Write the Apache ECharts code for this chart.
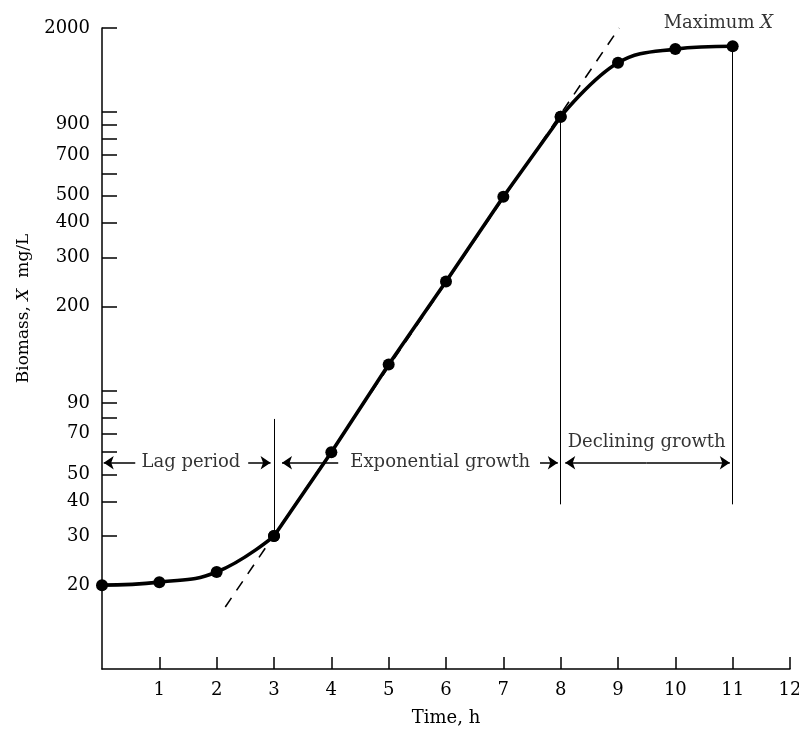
<!DOCTYPE html>
<html><head><meta charset="utf-8">
<script src="https://cdn.jsdelivr.net/npm/echarts@6/dist/echarts.min.js"></script>
<style>html,body{margin:0;padding:0;background:#fff}#c{width:799px;height:730px}</style>
</head><body><div id="c"></div>
<script>
// ---- data ----
const timeH = [0, 1, 2, 3, 4, 5, 6, 7, 8, 9, 10, 11];
const biomass = [20, 20.5, 22.3, 30, 60, 124, 246, 496, 960, 1500, 1680, 1720];
const lagIdx = [0, 1, 2, 3];
const expIdx = [3, 4, 5, 6, 7, 8];
const declineIdx = [8, 9, 10, 11];
const yTickValues = [20, 30, 40, 50, 60, 70, 80, 90, 100, 200, 300, 400, 500, 600, 700, 800, 900, 1000, 2000];
const yTickLabels = [20, 30, 40, 50, 70, 90, 200, 300, 400, 500, 700, 900, 2000];
const xTickLabels = [1, 2, 3, 4, 5, 6, 7, 8, 9, 10, 11, 12];
const tangentX = [2.15, 9.02];
const tangentY = [16.7, 2000];
const phaseLineX = [3, 8, 11];
const phaseLineTop = [79, 960, 1720];
const phaseLineBottom = [30, 39, 39];
const arrowLevel = 55;
const arrowFrom = [0.58, 2.55, 4.12, 7.64, 9.5, 9.5];
const arrowTo = [0.03, 2.94, 3.14, 7.95, 8.08, 10.95];
const noteText = ['Lag period', 'Exponential growth', 'Declining growth', 'Maximum X'];
const noteX = [1.55, 5.9, 9.5, 10.75];
const noteY = [55, 55, 65, 2084];

const FONT = 'DejaVu Serif';
const INK = '#000';
const pick = idx => idx.map(i => [timeH[i], biomass[i]]);
const curveSeries = (idx, smooth) => ({
  type: 'line', data: pick(idx), smooth: smooth, symbol: 'circle', symbolSize: 12, z: 5,
  itemStyle: {color: INK}, lineStyle: {color: INK, width: 3.6}
});

const chart = echarts.init(document.getElementById('c'), null, {renderer: 'canvas'});
chart.setOption({
  backgroundColor: '#fff',
  animation: false,
  grid: {left: 102, right: 9, top: 28, bottom: 61, outerBoundsMode: 'none'},
  xAxis: {
    type: 'value', min: 0, max: 12, interval: 1,
    name: 'Time, h', nameLocation: 'middle', nameGap: 40,
    nameTextStyle: {fontFamily: FONT, fontSize: 18, color: INK},
    axisLine: {show: true, lineStyle: {color: INK, width: 1.5}},
    axisTick: {show: true, inside: true, length: 12, customValues: xTickLabels, lineStyle: {color: INK, width: 1.5}},
    axisLabel: {customValues: xTickLabels, margin: 12, fontFamily: FONT, fontSize: 18, color: INK},
    splitLine: {show: false}
  },
  yAxis: {
    type: 'log', logBase: 10, min: 10, max: 2000,
    name: '{n|Biomass, }{i|X}{n|  mg/L}', nameLocation: 'middle', nameGap: 70,
    nameTextStyle: {fontFamily: FONT, fontSize: 17, color: INK, padding: [0, 0, 0, 80],
      rich: {n: {fontFamily: FONT, fontSize: 17, color: INK}, i: {fontFamily: FONT, fontSize: 17, fontStyle: 'italic', color: INK}}},
    axisLine: {show: true, lineStyle: {color: INK, width: 1.5}},
    axisTick: {show: true, inside: true, length: 15, customValues: yTickValues, lineStyle: {color: INK, width: 1.5}},
    axisLabel: {customValues: yTickLabels, margin: 12, fontFamily: FONT, fontSize: 18, color: INK,
      formatter: v => String(Math.round(v))},
    minorTick: {show: false},
    splitLine: {show: false}
  },
  series: [
    {
      type: 'line', data: tangentX.map((x, i) => [x, tangentY[i]]),
      symbol: 'none', z: 1,
      lineStyle: {color: INK, width: 1.6, type: [11, 9]}
    },
    {
      type: 'lines', coordinateSystem: 'cartesian2d', symbol: 'none', z: 1,
      lineStyle: {color: INK, width: 1, opacity: 1},
      data: phaseLineX.map((x, i) => ({coords: [[x, phaseLineTop[i]], [x, phaseLineBottom[i]]]}))
    },
    {
      type: 'lines', coordinateSystem: 'cartesian2d', symbol: ['none', 'arrow'], symbolSize: [7, 10], z: 2,
      lineStyle: {color: INK, width: 1.5, opacity: 1},
      data: arrowFrom.map((f, i) => ({coords: [[f, arrowLevel], [arrowTo[i], arrowLevel]]}))
    },
    curveSeries(lagIdx, 0.45),
    curveSeries(expIdx, false),
    curveSeries(declineIdx, 0.4),
    {
      type: 'scatter', clip: false, symbolSize: 0, z: 6,
      data: noteText.map((t, i) => ({name: t, value: [noteX[i], noteY[i]]})),
      label: {show: true, position: 'inside',
        formatter: p => p.name.endsWith(' X') ? '{n|' + p.name.slice(0, -1) + '}{i|X}' : '{n|' + p.name + '}',
        rich: {n: {fontFamily: FONT, fontSize: 18, color: INK}, i: {fontFamily: FONT, fontSize: 18, fontStyle: 'italic', color: INK}},
        fontFamily: FONT, fontSize: 18, color: INK, backgroundColor: '#fff', padding: [0, 2]}
    }
  ]
});
</script></body></html>
